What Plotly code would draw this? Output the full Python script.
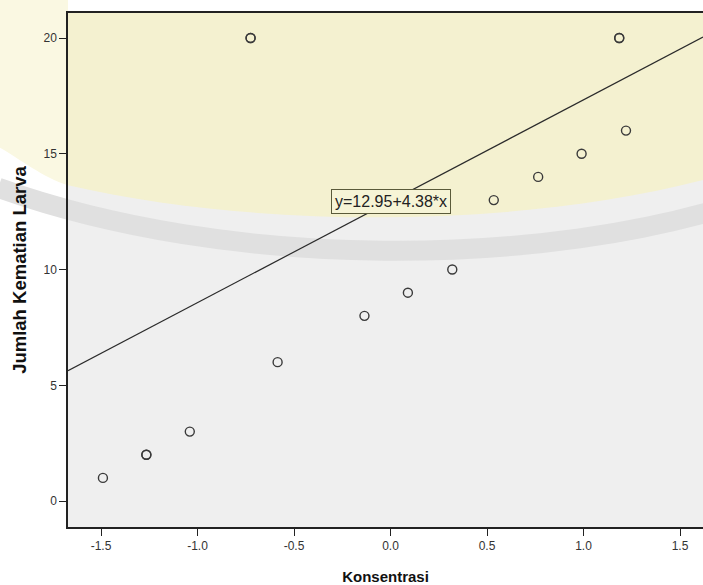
import plotly.graph_objects as go
import numpy as np

# Data
konsentrasi = [-1.49, -1.265, -1.265, -1.04, -0.585, -0.725, -0.725, -0.135, 0.09, 0.32,
               0.535, 0.765, 0.99, 1.22, 1.185, 1.185]
kematian = [1, 2, 2, 3, 6, 20, 20, 8, 9, 10, 13, 14, 15, 16, 20, 20]
intercept = 12.95
slope = 4.38
fit_label = "y=12.95+4.38*x"

x_range = [-1.671, 1.619]
y_range = [-1.12, 21.08]
x_ticks = [-1.5, -1.0, -0.5, 0.0, 0.5, 1.0, 1.5]
y_ticks = [0, 5, 10, 15, 20]

fit_x = np.array(x_range)
fit_y = intercept + slope * fit_x

fig = go.Figure()

fig.add_trace(go.Scatter(
    x=fit_x, y=fit_y, mode="lines",
    line=dict(color="#2b2b2b", width=1.2),
    showlegend=False, hoverinfo="skip",
))

fig.add_trace(go.Scatter(
    x=konsentrasi, y=kematian, mode="markers",
    marker=dict(symbol="circle-open", size=9, color="#3a3a3a", line=dict(width=1.4)),
    showlegend=False,
))

# watermark-like tint (yellow upper band + faint grey arc)
fig.add_shape(type="path", xref="paper", yref="paper", layer="below",
              path="M 0 1 L 1 1 L 1 0.675 C 0.7 0.58, 0.3 0.58, 0 0.665 Z",
              fillcolor="#F4F1D0", line=dict(width=0))
fig.add_shape(type="path", xref="paper", yref="paper", layer="below",
              path="M -0.11 1.03 L 0 1.03 L 0 0.665 C -0.04 0.68, -0.08 0.72, -0.11 0.74 Z",
              fillcolor="#FAF8E2", line=dict(width=0))
fig.add_shape(type="path", xref="paper", yref="paper", layer="below",
              path="M -0.11 0.66 C 0.25 0.50, 0.75 0.50, 1.08 0.64",
              fillcolor="rgba(0,0,0,0)",
              line=dict(color="#E0E0E0", width=20))

fig.add_annotation(
    x=0.0, y=intercept, xref="x", yref="y", text=fit_label, showarrow=False,
    font=dict(family="Liberation Sans, Arial, sans-serif", size=16, color="#222"),
    bgcolor="#F6F4D6", bordercolor="#5a5a3a", borderwidth=1, borderpad=3,
)

fig.update_layout(
    width=703, height=585,
    margin=dict(l=68, r=0, t=13, b=58, autoexpand=False),
    paper_bgcolor="white",
    plot_bgcolor="#EFEFEF",
    font=dict(family="Liberation Sans, Arial, sans-serif", size=12, color="#333"),
)

fig.update_xaxes(
    range=x_range, tickvals=x_ticks, ticktext=[f"{v:.1f}" for v in x_ticks],
    showgrid=False, zeroline=False, automargin=False,
    showline=True, linecolor="#222", linewidth=1.5, mirror=True,
    ticks="outside", ticklen=7, tickcolor="#222", tickwidth=1.2,
    title=dict(text="<b>Konsentrasi</b>", standoff=21,
               font=dict(family="Liberation Sans, Arial, sans-serif", size=15, color="#111")),
)
fig.update_yaxes(
    range=y_range, tickvals=y_ticks,
    showgrid=False, zeroline=False, automargin=False,
    showline=True, linecolor="#222", linewidth=1.5,
    ticks="outside", ticklen=7, tickcolor="#222", tickwidth=1.2,
    title=dict(text="<b>Jumlah Kematian Larva</b>", standoff=12,
               font=dict(family="Liberation Sans, Arial, sans-serif", size=18.5, color="#111")),
)

fig.write_html("out.html",
               config={"displayModeBar": False},
               post_script="document.body.style.margin='0';document.documentElement.style.overflow='hidden';")
